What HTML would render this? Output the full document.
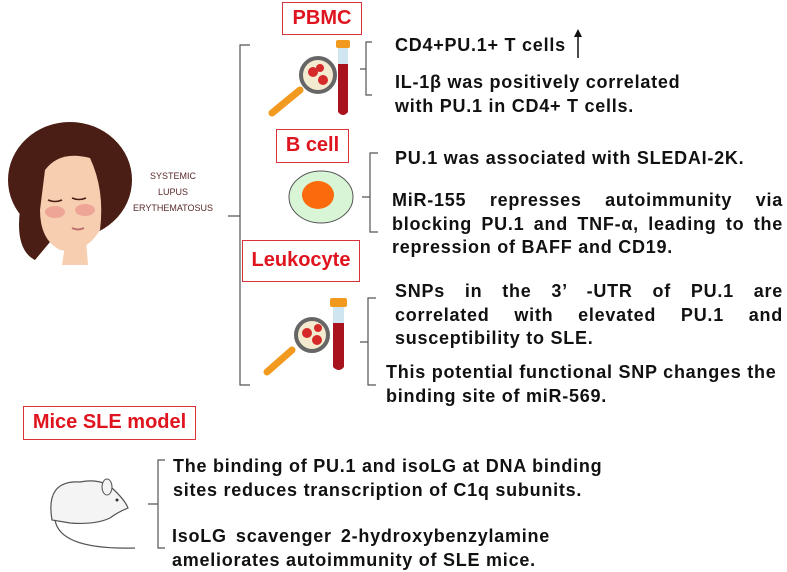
<!DOCTYPE html>
<html><head><meta charset="utf-8"><style>
body{margin:0;width:787px;height:568px;background:#fff;position:relative;overflow:hidden;font-family:"Liberation Sans","DejaVu Sans",sans-serif}
.t{position:absolute;font-weight:bold;font-size:18px;line-height:23.5px;color:#111;letter-spacing:0.75px;white-space:nowrap}
.j{text-align:justify;text-align-last:justify;white-space:normal}
.box{position:absolute;border:1.5px solid #d9333a;color:#e0141e;font-weight:bold;font-size:20px;text-align:center;box-sizing:border-box}
svg{position:absolute;left:0;top:0}
</style></head><body>
<svg width="787" height="568">
<g fill="none" stroke="#555" stroke-width="1.2">
<path d="M250,45 H240 V385 H250 M240,216 H228"/>
<path d="M372,42 H366 V95 H372 M366,69 H360"/>
<path d="M378,153 H370 V232 H378 M370,197 H362"/>
<path d="M376,298 H368 V385 H376 M368,342 H360"/>
<path d="M165,460 H158 V548 H165 M158,504 H148"/>
</g>
<path d="M578,58 V33" stroke="#111" stroke-width="1.5"/><path d="M574,37 L578,29 L582,37 Z" fill="#111"/>
<ellipse cx="70" cy="180" rx="62" ry="58" fill="#4a1e14"/>
<path d="M20,210 Q15,250 35,260 L60,230 Z" fill="#4a1e14"/>
<path d="M45,170 Q60,150 90,158 Q105,190 100,230 Q85,255 60,250 Q40,240 40,210 Z" fill="#f7cfb0"/>
<path d="M65,245 L62,265 L88,265 L86,240 Z" fill="#f7cfb0"/>
<ellipse cx="55" cy="212" rx="10" ry="6" fill="#eb9a90" opacity=".8"/>
<ellipse cx="85" cy="210" rx="10" ry="6" fill="#eb9a90" opacity=".8"/>
<path d="M48,200 q7,3 14,0 M72,198 q7,3 14,0" stroke="#4a1e14" stroke-width="1.5" fill="none"/>
<path d="M72,228 q6,3 12,0" stroke="#c07070" stroke-width="2" fill="none"/>
<rect x="336" y="40" width="14" height="8" rx="2" fill="#f29a1f"/>
<rect x="338" y="48" width="10" height="16" fill="#cfe6f0"/>
<path d="M338,64 h10 v48 q-5,6 -10,0 Z" fill="#a8131e"/>
<path d="M272,113 L300,90" stroke="#f29a1f" stroke-width="7" stroke-linecap="round"/>
<circle cx="318" cy="75" r="17" fill="#f4ead0" stroke="#666" stroke-width="4"/>
<circle cx="313" cy="72" r="5" fill="#d42a2a"/><circle cx="323" cy="80" r="5" fill="#d42a2a"/><circle cx="320" cy="68" r="4" fill="#d42a2a"/>
<rect x="330" y="298" width="17" height="9" rx="2" fill="#f29a1f"/>
<rect x="333" y="307" width="11" height="16" fill="#cfe6f0"/>
<path d="M333,323 h11 v44 q-5,6 -11,0 Z" fill="#a8131e"/>
<path d="M267,372 L292,350" stroke="#f29a1f" stroke-width="7" stroke-linecap="round"/>
<circle cx="312" cy="335" r="16" fill="#f4ead0" stroke="#666" stroke-width="4"/>
<circle cx="307" cy="333" r="5" fill="#d42a2a"/><circle cx="317" cy="340" r="5" fill="#d42a2a"/><circle cx="318" cy="328" r="4" fill="#d42a2a"/>
<ellipse cx="321" cy="197" rx="32" ry="26" fill="#d8f5d6" stroke="#555" stroke-width="1"/>
<ellipse cx="318" cy="195" rx="16" ry="14" fill="#fb6a0c"/>
<path d="M52,520 Q45,480 80,482 Q100,478 112,488 Q125,500 128,508 Q118,512 110,518 Q95,525 70,523 Z" fill="#f4f4f4" stroke="#555" stroke-width="1.2"/>
<ellipse cx="107" cy="487" rx="5" ry="8" fill="#f4f4f4" stroke="#555"/>
<circle cx="117" cy="500" r="1.5" fill="#333"/>
<path d="M55,520 Q60,550 135,548" stroke="#555" fill="none" stroke-width="1.2"/>
</svg>
<div class="box" style="left:282px;top:2px;width:80px;height:33px;line-height:30px">PBMC</div>
<div class="box" style="left:276px;top:129px;width:73px;height:34px;line-height:31px">B cell</div>
<div class="box" style="left:242px;top:240px;width:118px;height:42px;line-height:38px">Leukocyte</div>
<div class="box" style="left:23px;top:406px;width:173px;height:34px;line-height:31px">Mice SLE model</div>
<div style="position:absolute;left:128px;top:168px;width:90px;text-align:center;font-size:9px;line-height:16px;color:#5a2a2a">SYSTEMIC<br>LUPUS<br>ERYTHEMATOSUS</div>
<div class="t" style="left:395px;top:34px">CD4+PU.1+ T cells</div>
<div class="t" style="left:395px;top:71px">IL-1β was positively correlated<br>with PU.1 in CD4+ T cells.</div>
<div class="t" style="left:395px;top:147px">PU.1 was associated with SLEDAI-2K.</div>
<div class="t" style="left:392px;top:189px;width:391px"><div class="j">MiR-155 represses autoimmunity via</div><div class="j">blocking PU.1 and TNF-α, leading to the</div><div>repression of BAFF and CD19.</div></div>
<div class="t" style="left:395px;top:280px;width:388px"><div class="j">SNPs in the 3’ -UTR of PU.1 are</div><div class="j">correlated with elevated PU.1 and</div><div>susceptibility to SLE.</div></div>
<div class="t" style="left:386px;top:361px">This potential functional SNP changes the<br>binding site of miR-569.</div>
<div class="t" style="left:173px;top:455px">The binding of PU.1 and isoLG at DNA binding<br>sites reduces transcription of C1q subunits.</div>
<div class="t" style="left:172px;top:525px;width:378px"><div class="j">IsoLG scavenger 2-hydroxybenzylamine</div><div>ameliorates autoimmunity of SLE mice.</div></div>
</body></html>
